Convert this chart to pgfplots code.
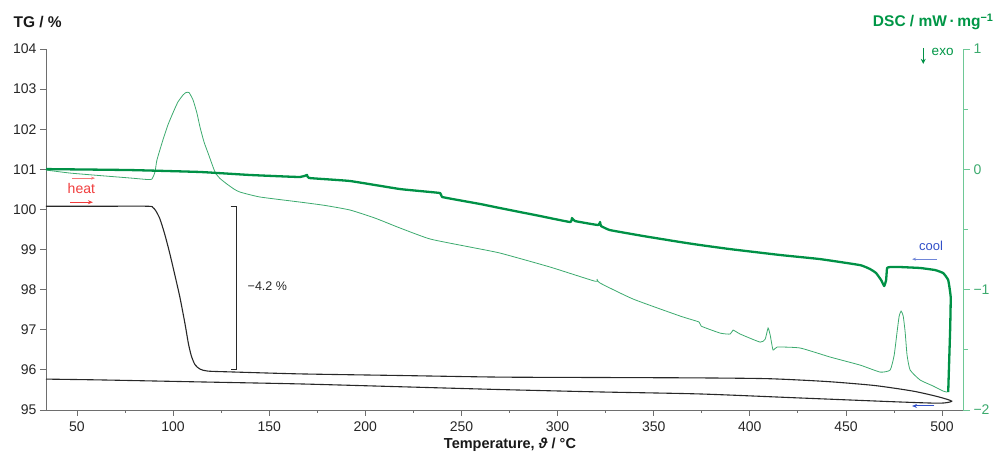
\documentclass[border=0pt]{standalone}
\usepackage{pgfplots}
\pgfplotsset{compat=1.18}
\usepackage{fontspec}
\setmainfont{Liberation Sans}
\usetikzlibrary{arrows.meta}
\definecolor{axgray}{RGB}{110,110,110}
\definecolor{tgblack}{RGB}{40,40,40}
\definecolor{dscdark}{RGB}{0,145,70}
\definecolor{dsclight}{RGB}{60,170,110}
\definecolor{dscaxis}{RGB}{110,200,150}
\definecolor{dsclabel}{RGB}{0,150,70}
\definecolor{heatred}{RGB}{240,60,60}
\definecolor{coolblue}{RGB}{50,80,200}

\pgfplotstableread{
T TG
33.9 100.08
62.0 100.08
86.9 100.08
89.5 100.05
91.1 99.96
93.2 99.76
95.8 99.36
98.4 98.88
101.0 98.35
103.6 97.80
106.2 97.15
108.0 96.65
109.5 96.35
111.4 96.13
114.0 96.02
118.0 95.97
129.6 95.95
166.0 95.90
218.0 95.86
270.0 95.82
322.0 95.81
374.0 95.80
410.0 95.78
440.0 95.71
465.0 95.61
485.0 95.47
498.0 95.33
505.0 95.22
499.0 95.17
478.0 95.20
426.0 95.30
374.0 95.40
322.0 95.45
270.0 95.51
218.0 95.58
166.0 95.65
114.0 95.70
62.0 95.75
33.9 95.77
}\tgdata

\pgfplotstableread{
T DSC
33.9 -0.006
46.4 -0.031
62.0 -0.052
77.6 -0.072
86.9 -0.085
89.0 -0.081
90.6 -0.022
91.6 0.077
94.7 0.243
97.3 0.368
99.9 0.468
102.5 0.559
105.2 0.618
106.7 0.638
108.3 0.638
110.4 0.576
112.4 0.468
114.0 0.352
116.1 0.227
118.2 0.135
121.8 -0.022
124.4 -0.076
128.0 -0.122
131.7 -0.164
134.8 -0.189
145.2 -0.230
166.0 -0.272
179.0 -0.300
192.0 -0.338
205.0 -0.405
218.1 -0.488
233.7 -0.579
254.5 -0.646
270.1 -0.696
296.1 -0.812
319.5 -0.930
320.5 -0.912
322.1 -0.945
339.3 -1.078
363.7 -1.219
373.6 -1.269
374.7 -1.303
384.6 -1.361
389.8 -1.369
391.3 -1.336
395.0 -1.369
405.4 -1.436
408.0 -1.411
409.5 -1.319
410.6 -1.377
412.1 -1.502
414.2 -1.477
426.2 -1.485
441.8 -1.560
457.4 -1.627
467.8 -1.685
473.0 -1.668
475.1 -1.544
476.6 -1.352
477.7 -1.219
478.7 -1.178
479.8 -1.219
480.8 -1.352
481.8 -1.544
483.4 -1.668
488.6 -1.751
495.4 -1.801
500.6 -1.843
502.6 -1.851
}\dscheat

\pgfplotstableread{
T DSC
503.2 -1.851
504.2 -1.336
504.5 -1.062
503.2 -0.920
500.6 -0.862
496.4 -0.837
488.6 -0.820
478.2 -0.812
473.0 -0.812
471.4 -0.820
470.9 -0.920
469.9 -0.970
468.3 -0.920
465.7 -0.862
462.6 -0.829
457.4 -0.796
436.6 -0.746
415.8 -0.712
389.8 -0.663
374.1 -0.629
363.7 -0.604
344.5 -0.554
327.3 -0.505
322.6 -0.471
322.1 -0.438
321.1 -0.463
309.1 -0.430
307.5 -0.405
306.5 -0.438
290.9 -0.388
270.1 -0.322
259.7 -0.288
239.9 -0.230
238.9 -0.197
218.1 -0.164
192.0 -0.097
170.7 -0.072
169.7 -0.047
166.0 -0.064
140.0 -0.047
114.0 -0.022
77.6 -0.006
33.9 0.002
}\dsccool

\begin{document}
\begin{tikzpicture}
\useasboundingbox (0,0) rectangle (998pt,452pt);
\begin{axis}[
  at={(46pt,42pt)}, anchor=south west,
  scale only axis, width=917pt, height=361pt,
  xmin=33.9, xmax=510.9, ymin=95, ymax=104,
  axis x line*=bottom, axis y line*=left,
  axis line style={axgray, line width=0.8pt},
  xtick={50,100,...,500},
  minor xtick={75,125,...,475},
  ytick={95,96,...,104},
  tick align=outside,
  major tick length=6pt, minor tick length=3pt,
  tick style={axgray, line width=0.8pt},
  every tick label/.append style={font=\fontsize{14}{16}\selectfont, text=black!85},
  /pgf/number format/assume math mode=true,
  xticklabel style={yshift=-2pt},
  clip=false,
]
\addplot[tgblack, line width=1.1pt, smooth, tension=0.4] table[x=T, y=TG] {\tgdata};
% bracket
\draw[tgblack, line width=1.1pt] (axis cs:130.0,100.08) -- (axis cs:133.2,100.08) -- (axis cs:133.2,96.0) -- (axis cs:130.0,96.0);
\node[anchor=west, font=\fontsize{12.5}{14}\selectfont, text=black!85] at (axis cs:137,98.09) {−4.2 \%};
% heat
\draw[heatred!70, line width=0.7pt, -{Stealth[length=4pt,width=3pt]}] (axis cs:47.4,100.78) -- (axis cs:59.4,100.78);
\node[font=\fontsize{14}{16}\selectfont, text=heatred] at (axis cs:52.3,100.53) {heat};
\draw[heatred, line width=1pt, -{Stealth[length=5pt,width=4pt]}] (axis cs:46.4,100.18) -- (axis cs:58.3,100.18);
% cool
\node[font=\fontsize{13}{15}\selectfont, text=coolblue] at (axis cs:494.3,99.09) {cool};
\draw[coolblue!70, line width=0.7pt, -{Stealth[length=4pt,width=3pt]}] (axis cs:497.4,98.76) -- (axis cs:484.4,98.76);
\draw[coolblue, line width=1pt, -{Stealth[length=5pt,width=4pt]}] (axis cs:496.0,95.10) -- (axis cs:484.4,95.10);
% exo
\draw[dscdark, line width=1.1pt, -{Stealth[length=5pt,width=5pt]}] (axis cs:490.2,104.03) -- (axis cs:490.2,103.63);
\node[anchor=west, font=\fontsize{13.5}{15}\selectfont, text=dsclabel] at (axis cs:492.8,103.93) {exo};
\end{axis}
\begin{axis}[
  at={(46pt,42pt)}, anchor=south west,
  scale only axis, width=917pt, height=361pt,
  xmin=33.9, xmax=510.9, ymin=-2, ymax=1,
  axis x line=none, axis y line*=right,
  axis line style={dscaxis, line width=0.9pt},
  ytick={-2,-1,0,1},
  yticklabels={−2,−1,0,1},
  minor ytick={-1.5,-0.5,0.5},
  tick align=outside,
  major tick length=7pt, minor tick length=5pt,
  tick style={dscaxis, line width=0.9pt},
  every tick label/.append style={font=\fontsize{14}{16}\selectfont, text=dsclight},
  clip=false,
]
\addplot[dsclight, line width=0.8pt, smooth, tension=0.3] table[x=T, y=DSC] {\dscheat};
\addplot[dscdark, line width=2.3pt, line join=round, smooth, tension=0.2] table[x=T, y=DSC] {\dsccool};
\end{axis}
\node[anchor=west, font=\bfseries\fontsize{15.5}{17}\selectfont, text=black!90] at (10pt,430pt) {TG / \%};
\node[anchor=east, font=\bfseries\fontsize{15.5}{17}\selectfont, text=dsclabel] at (997pt,430pt) {DSC / mW\,·\,mg\textsuperscript{−1}};
\node[font=\bfseries\fontsize{14.5}{16}\selectfont, text=black!90] at (510pt,7pt) {Temperature, \textit{ϑ} / °C};
\end{tikzpicture}
\end{document}
